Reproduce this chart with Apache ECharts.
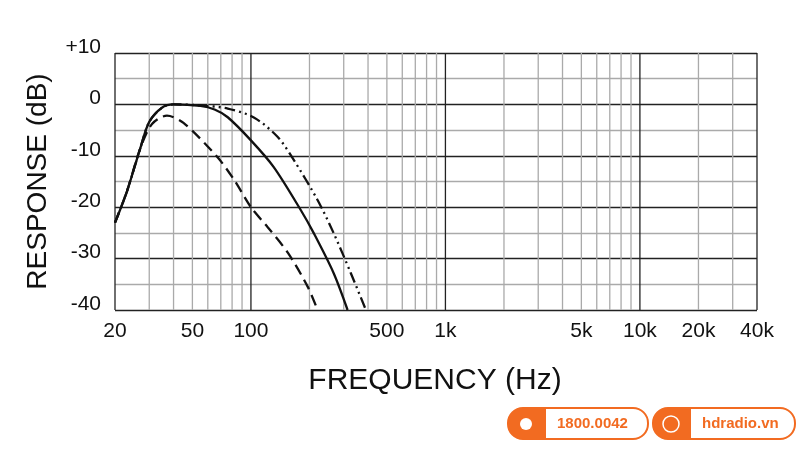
<!DOCTYPE html>
<html>
<head>
<meta charset="utf-8">
<script src="https://cdn.jsdelivr.net/npm/echarts@6/dist/echarts.min.js"></script>
<style>html,body{margin:0;background:#fff}#chart{width:800px;height:450px}</style>
</head>
<body>
<div id="chart"></div>
<script>
// frequency (Hz), response (dB)
const solid = [[20,-23],[23,-17],[27,-8.5],[30,-3.4],[35,-0.6],[40,0],[55,-0.3],[65,-1],[76,-2.5],[100,-7],[131,-12.2],[180,-20.5],[210,-25],[266,-32.8],[314,-40]];
const dashed = [[20,-23],[23,-17],[27,-8.5],[31,-3.8],[37,-2.2],[45,-3.6],[67,-10.2],[82,-14.7],[100,-20],[122,-23.9],[155,-28.9],[196,-35.5],[220,-40]];
const dashDot = [[20,-23],[23,-17],[27,-8.5],[30,-3.4],[35,-0.6],[40,0],[55,-0.2],[76,-0.8],[104,-2.6],[137,-6.3],[166,-10.8],[220,-18.6],[266,-25],[326,-32.8],[390,-40]];
const minorFreqs = [30,40,50,60,70,80,90,200,300,400,500,600,700,800,900,2000,3000,4000,5000,6000,7000,8000,9000,20000,30000];
const decadeFreqs = [100,1000,10000];
const xTickValues = [20,50,100,500,1000,5000,10000,20000,40000];
const xTickLabels = ['20','50','100','500','1k','5k','10k','20k','40k'];
const yLabels = {'10':'+10','0':'0','-10':'-10','-20':'-20','-30':'-30','-40':'-40'};

const chart = echarts.init(document.getElementById('chart'));
const font = '"Liberation Sans", Arial, sans-serif';

function vLines(freqs, color, width, z) {
  return {
    type: 'custom', silent: true, z: z,
    data: freqs.map(f => [f]),
    renderItem(params, api) {
      const top = api.coord([api.value(0), 10]);
      const bot = api.coord([api.value(0), -40]);
      return {type: 'line', shape: {x1: top[0], y1: top[1], x2: bot[0], y2: bot[1]},
        style: {stroke: color, lineWidth: width}};
    }
  };
}

chart.setOption({
  animation: false,
  grid: {left: 115, right: 43, top: 53, bottom: 140},
  xAxis: {type: 'log', logBase: 10, min: 20, max: 40000,
    axisLabel: {show: false}, axisTick: {show: false}, splitLine: {show: false},
    axisLine: {show: false}},
  yAxis: {type: 'value', min: -40, max: 10, interval: 10,
    name: 'RESPONSE (dB)', nameLocation: 'middle', nameGap: 63,
    nameTextStyle: {fontFamily: font, fontSize: 28, color: '#111'},
    axisLine: {show: false}, axisTick: {show: false},
    axisLabel: {fontFamily: font, fontSize: 21, color: '#111', margin: 14,
      verticalAlign: 'bottom', lineHeight: 12, formatter: v => yLabels[String(v)]},
    splitLine: {lineStyle: {color: '#222', width: 1.3}},
    minorTick: {show: false, splitNumber: 2},
    minorSplitLine: {show: true, lineStyle: {color: '#aaa', width: 1.3}}},
  series: [
    vLines(minorFreqs, '#aaa', 1.3, 1),
    vLines(decadeFreqs, '#222', 1.3, 2),
    vLines([20, 40000], '#222', 1.3, 2),
    {type: 'custom', silent: true, z: 2,
      data: xTickValues.map((f, i) => [f, i]),
      renderItem(params, api) {
        const p = api.coord([api.value(0), -40]);
        return {type: 'text', x: p[0], y: p[1] + 21,
          style: {text: xTickLabels[api.value(1)], fontFamily: font, fontSize: 21,
            fill: '#111', align: 'center', verticalAlign: 'middle'}};
      }},
    {type: 'line', data: solid, smooth: 0.3, symbol: 'none', z: 5,
      lineStyle: {color: '#111', width: 2.3}},
    {type: 'line', data: dashed, smooth: 0.3, symbol: 'none', z: 5,
      lineStyle: {color: '#111', width: 2.3, type: [11, 6]}},
    {type: 'line', data: dashDot, smooth: 0.3, symbol: 'none', z: 5,
      lineStyle: {color: '#111', width: 2.3, type: [11, 4, 2, 4, 2, 4]}}
  ],
  graphic: [
    {type: 'text', x: 435, y: 381,
      style: {text: 'FREQUENCY (Hz)', fontFamily: font, fontSize: 30, fill: '#111',
        align: 'center', verticalAlign: 'middle'}},
    {type: 'rect', shape: {x: 508, y: 408, width: 140, height: 31, r: 15},
      style: {fill: '#fff', stroke: '#f26b21', lineWidth: 2}},
    {type: 'rect', shape: {x: 508, y: 408, width: 38, height: 31, r: [15, 0, 0, 15]},
      style: {fill: '#f26b21'}},
    {type: 'text', x: 557, y: 424, style: {text: '1800.0042', fontFamily: font,
      fontSize: 15, fontWeight: 'bold', fill: '#f26b21', verticalAlign: 'middle'}},
    {type: 'rect', shape: {x: 653, y: 408, width: 142, height: 31, r: 15},
      style: {fill: '#fff', stroke: '#f26b21', lineWidth: 2}},
    {type: 'rect', shape: {x: 653, y: 408, width: 38, height: 31, r: [15, 0, 0, 15]},
      style: {fill: '#f26b21'}},
    {type: 'circle', shape: {cx: 671, cy: 424, r: 8},
      style: {fill: 'none', stroke: '#fff', lineWidth: 1.5}},
    {type: 'circle', shape: {cx: 526, cy: 424, r: 6}, style: {fill: '#fff'}},
    {type: 'text', x: 702, y: 424, style: {text: 'hdradio.vn', fontFamily: font,
      fontSize: 15, fontWeight: 'bold', fill: '#f26b21', verticalAlign: 'middle'}}
  ]
});
</script>
</body>
</html>
